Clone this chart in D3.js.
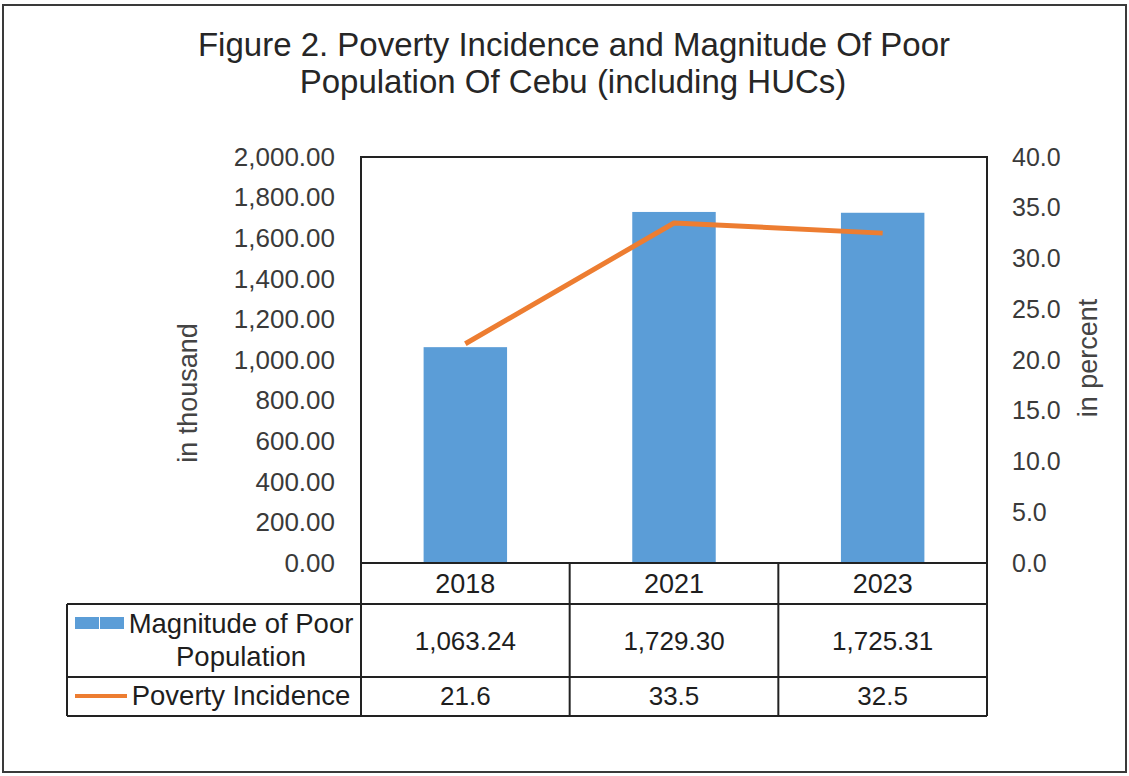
<!DOCTYPE html>
<html>
<head>
<meta charset="utf-8">
<script src="https://cdn.jsdelivr.net/npm/d3@7"></script>
<style>
  body { margin: 0; background: #fff; }
  svg { display: block; font-family: "Liberation Sans", Arial, sans-serif; }
</style>
</head>
<body>
<svg id="drawing_region"></svg>
<script>
// chart data
const years = ["2018", "2021", "2023"];
const magnitude = [1063.24, 1729.30, 1725.31];
const incidence = [21.6, 33.5, 32.5];
const leftTicks = [0, 200, 400, 600, 800, 1000, 1200, 1400, 1600, 1800, 2000];
const rightTicks = [0, 5, 10, 15, 20, 25, 30, 35, 40];
const magnitudeLabels = ["1,063.24", "1,729.30", "1,725.31"];
const incidenceLabels = ["21.6", "33.5", "32.5"];

const width = 1129, height = 776;
const margin = {top: 157, right: 142, bottom: 213, left: 361};
const inner_width = width - margin.left - margin.right;
const inner_height = height - margin.top - margin.bottom;

const svg = d3.select('#drawing_region')
    .attr('width', width)
    .attr('height', height);

// outer frame
svg.append('rect')
    .attr('x', 3).attr('y', 5)
    .attr('width', 1123).attr('height', 767)
    .attr('fill', 'none')
    .attr('stroke', '#3a3a3a')
    .attr('stroke-width', 2);

// title
svg.append('text')
    .attr('x', 574).attr('y', 56)
    .attr('text-anchor', 'middle')
    .attr('font-size', 33)
    .attr('fill', '#262626')
    .text('Figure 2. Poverty Incidence and Magnitude Of Poor');
svg.append('text')
    .attr('x', 573).attr('y', 93)
    .attr('text-anchor', 'middle')
    .attr('font-size', 33)
    .attr('fill', '#262626')
    .text('Population Of Cebu (including HUCs)');

const chart = svg.append('g')
    .attr('transform', `translate(${margin.left}, ${margin.top})`);

const xscale = d3.scaleBand()
    .domain(years)
    .range([0, inner_width])
    .paddingInner(0.6)
    .paddingOuter(0.3);

const yscale = d3.scaleLinear()
    .domain([0, 2000])
    .range([inner_height, 0]);

const y2scale = d3.scaleLinear()
    .domain([0, 40])
    .range([inner_height, 0]);

// bars
chart.selectAll('.bar')
    .data(years)
    .join('rect')
    .attr('class', 'bar')
    .attr('x', d => xscale(d))
    .attr('y', (d, i) => yscale(magnitude[i]))
    .attr('width', xscale.bandwidth())
    .attr('height', (d, i) => yscale(0) - yscale(magnitude[i]))
    .attr('fill', '#5b9dd7');

// line
const line = d3.line()
    .x((d, i) => xscale(years[i]) + xscale.bandwidth() / 2)
    .y(d => y2scale(d));

chart.append('path')
    .datum(incidence)
    .attr('d', line)
    .attr('fill', 'none')
    .attr('stroke', '#ed7d31')
    .attr('stroke-width', 5)
    .attr('stroke-linejoin', 'round');

// plot frame
chart.append('rect')
    .attr('width', inner_width)
    .attr('height', inner_height)
    .attr('fill', 'none')
    .attr('stroke', '#222')
    .attr('stroke-width', 2);

// axes
const fmtLeft = d3.format(',.2f');
const fmtRight = d3.format('.1f');

const yaxis_group = chart.append('g')
    .call(d3.axisLeft(yscale).tickValues(leftTicks).tickFormat(fmtLeft).tickSize(0).tickPadding(26));
yaxis_group.select('.domain').remove();
yaxis_group.selectAll('text')
    .attr('font-size', 26)
    .attr('font-family', '"Liberation Sans", Arial, sans-serif')
    .attr('fill', '#3a3a3a');

const y2axis_group = chart.append('g')
    .attr('transform', `translate(${inner_width}, 0)`)
    .call(d3.axisRight(y2scale).tickValues(rightTicks).tickFormat(fmtRight).tickSize(0).tickPadding(25));
y2axis_group.select('.domain').remove();
y2axis_group.selectAll('text')
    .attr('font-size', 25)
    .attr('font-family', '"Liberation Sans", Arial, sans-serif')
    .attr('fill', '#3a3a3a');

// axis titles
svg.append('text')
    .attr('transform', 'translate(197, 393) rotate(-90)')
    .attr('text-anchor', 'middle')
    .attr('font-size', 27)
    .attr('fill', '#444')
    .text('in thousand');
svg.append('text')
    .attr('transform', 'translate(1097, 358) rotate(-90)')
    .attr('text-anchor', 'middle')
    .attr('font-size', 27)
    .attr('fill', '#444')
    .text('in percent');

// data table
const tableLeft = 67;
const rowY = [inner_height, inner_height + 41, inner_height + 114, inner_height + 153];
const table = chart.append('g').attr('stroke', '#222').attr('stroke-width', 2);
const lx = tableLeft - margin.left;

// horizontal lines
[rowY[1], rowY[2], rowY[3]].forEach(y => {
    table.append('line').attr('x1', lx).attr('x2', inner_width).attr('y1', y).attr('y2', y);
});
// vertical lines
table.append('line').attr('x1', lx).attr('x2', lx).attr('y1', rowY[1]).attr('y2', rowY[3]);
const colEdges = [0, inner_width / 3, inner_width * 2 / 3, inner_width];
colEdges.forEach(x => {
    table.append('line').attr('x1', x).attr('x2', x).attr('y1', rowY[0]).attr('y2', rowY[3]);
});

const cellText = (x, y, t, size) => chart.append('text')
    .attr('x', x).attr('y', y)
    .attr('text-anchor', 'middle')
    .attr('font-size', size || 26)
    .attr('fill', '#1e1e1e')
    .text(t);

years.forEach((yr, i) => {
    const cx = xscale(yr) + xscale.bandwidth() / 2;
    cellText(cx, rowY[0] + 30, yr, 27);
    cellText(cx, rowY[1] + 46, magnitudeLabels[i]);
    cellText(cx, rowY[2] + 28, incidenceLabels[i]);
});

// row labels with legend keys
const labelCx = 241 - margin.left;
chart.append('rect')
    .attr('x', lx + 8).attr('y', rowY[1] + 13)
    .attr('width', 24).attr('height', 12)
    .attr('fill', '#5b9dd7');
chart.append('rect')
    .attr('x', lx + 33).attr('y', rowY[1] + 13)
    .attr('width', 24).attr('height', 12)
    .attr('fill', '#5b9dd7');
cellText(labelCx, rowY[1] + 29, 'Magnitude of Poor', 27.5);
cellText(labelCx, rowY[1] + 62, 'Population', 27.5);
chart.append('line')
    .attr('x1', lx + 8).attr('x2', lx + 60)
    .attr('y1', rowY[2] + 19).attr('y2', rowY[2] + 19)
    .attr('stroke', '#ed7d31')
    .attr('stroke-width', 4);
cellText(labelCx, rowY[2] + 28, 'Poverty Incidence', 27.5);
</script>
</body>
</html>
